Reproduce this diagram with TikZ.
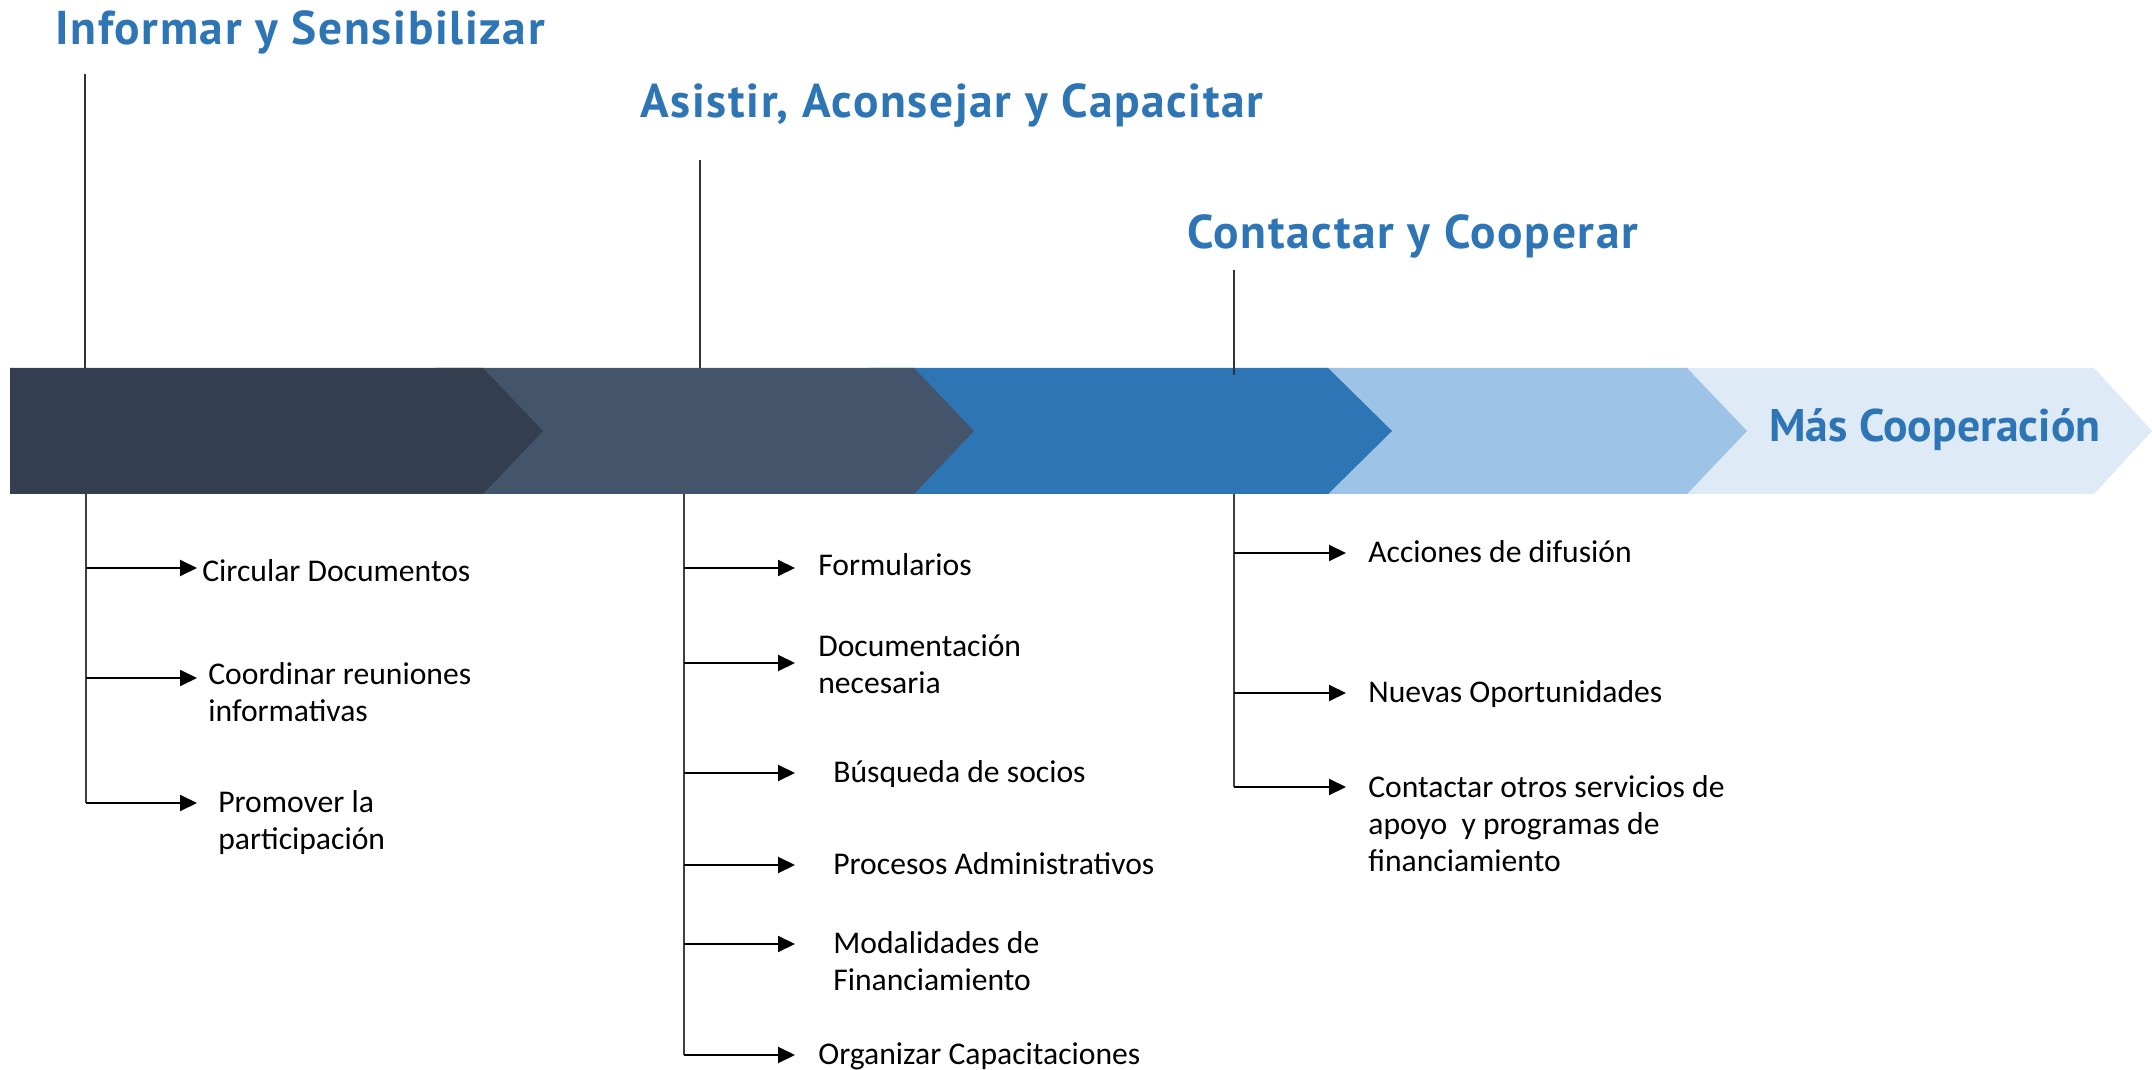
\documentclass[tikz,border=0pt]{standalone}
\usepackage{fontspec}
\setmainfont{Carlito}
\newfontfamily\titulofont[LetterSpace=3.5]{PT Sans}
\newfontfamily\finfont{PT Sans}
\usetikzlibrary{arrows.meta}
\definecolor{azulosc}{HTML}{333F50}
\definecolor{pizarra}{HTML}{44546A}
\definecolor{azul}{HTML}{2E75B6}
\definecolor{celeste}{HTML}{9DC3E6}
\definecolor{palido}{HTML}{DEEBF7}
\newcommand{\bloque}[1]{\begin{tabular}[t]{@{}l@{}}#1\end{tabular}}

\begin{document}
\begin{tikzpicture}[x=0.02cm, y=-0.02cm,
		titulo/.style={anchor=base west, inner sep=0, text=azul, font=\titulofont\bfseries\fontsize{27}{32}\selectfont},
		item/.style={anchor=base west, inner sep=0, font=\fontsize{18}{21.3}\selectfont},
		guia/.style={draw=black!80, line width=0.6pt},
		eje/.style={draw=black!75, line width=1.1pt},
		flecha/.style={-{Triangle[length=0.34cm, width=0.32cm]}, line width=1.1pt}]
		\useasboundingbox (0,0) rectangle (2152,1070);
		% banda de flechas
		\fill[palido] (1640,368) -- (2094,368) -- (2152,431) -- (2094,494) -- (1640,494) -- cycle;
		\fill[celeste] (1280,368) -- (1687,368) -- (1747,431) -- (1687,494) -- (1280,494) -- cycle;
		\fill[azul] (870,368) -- (1328,368) -- (1392,431) -- (1328,494) -- (870,494) -- cycle;
		\fill[pizarra] (435,368) -- (914,368) -- (974,431) -- (914,494) -- (435,494) -- cycle;
		\fill[azulosc] (10,368) -- (483,368) -- (543,431) -- (483,494) -- (10,494) -- cycle;
		\coordinate (arriba) at(0,368);
		\node (fin)[titulo, font=\finfont\bfseries\fontsize{26}{30}\selectfont] at(1769,442) {Más Cooperación};

		% titulos
		\node (h1)[titulo] at(55,45) {Informar y Sensibilizar};
		\node (h2)[titulo] at(640,118) {Asistir, Aconsejar y Capacitar};
		\node (h3)[titulo] at(1187,249) {Contactar y Cooperar};
		\coordinate (g1) at(85,74);
		\coordinate (g2) at(700,160);
		\coordinate (g3) at(1234,270);
		\draw[guia] (g1) -- (g1 |- arriba);
		\draw[guia] (g2) -- (g2 |- arriba);
		\draw[guia] (g3) -- ([yshift=-4]g3 |- arriba);

		% informar
		\coordinate (s1) at(86,494);
		\coordinate (p1a) at(197,568);
		\coordinate (p1b) at(197,678);
		\coordinate (p1c) at(197,803);
		\node (c1a)[item] at(202,582) {Circular Documentos};
		\node (c1b)[item] at(208,684) {\bloque{Coordinar reuniones\\informativas}};
		\node (c1c)[item] at(218,812) {\bloque{Promover la\\participación}};
		\draw[eje] (s1) -- (s1 |- p1c);
		\draw[flecha] (s1 |- p1a) -- (p1a);
		\draw[flecha] (s1 |- p1b) -- (p1b);
		\draw[flecha] (s1 |- p1c) -- (p1c);

		% asistir
		\coordinate (s2) at(684,494);
		\coordinate (p2a) at(795,568);
		\coordinate (p2b) at(795,663);
		\coordinate (p2c) at(795,773);
		\coordinate (p2d) at(795,865);
		\coordinate (p2e) at(795,944);
		\coordinate (p2f) at(795,1055);
		\node (c2a)[item] at(818,576) {Formularios};
		\node (c2b)[item] at(818,656) {\bloque{Documentación\\necesaria}};
		\node (c2c)[item] at(833,782) {Búsqueda de socios};
		\node (c2d)[item] at(833,874) {Procesos Administrativos};
		\node (c2e)[item] at(833,953) {\bloque{Modalidades de\\Financiamiento}};
		\node (c2f)[item] at(818,1064) {Organizar Capacitaciones};
		\draw[eje] (s2) -- (s2 |- p2f);
		\draw[flecha] (s2 |- p2a) -- (p2a);
		\draw[flecha] (s2 |- p2b) -- (p2b);
		\draw[flecha] (s2 |- p2c) -- (p2c);
		\draw[flecha] (s2 |- p2d) -- (p2d);
		\draw[flecha] (s2 |- p2e) -- (p2e);
		\draw[flecha] (s2 |- p2f) -- (p2f);

		% contactar
		\coordinate (s3) at(1234,494);
		\coordinate (p3a) at(1346,553);
		\coordinate (p3b) at(1346,693);
		\coordinate (p3c) at(1346,787);
		\node (c3a)[item] at(1368,562) {Acciones de difusión};
		\node (c3b)[item] at(1368,702) {Nuevas Oportunidades};
		\node (c3c)[item] at(1368,797) {\bloque{Contactar otros servicios de\\apoyo\ \ y programas de\\financiamiento}};
		\draw[eje] (s3) -- (s3 |- p3c);
		\draw[flecha] (s3 |- p3a) -- (p3a);
		\draw[flecha] (s3 |- p3b) -- (p3b);
		\draw[flecha] (s3 |- p3c) -- (p3c);
\end{tikzpicture}
\end{document}
